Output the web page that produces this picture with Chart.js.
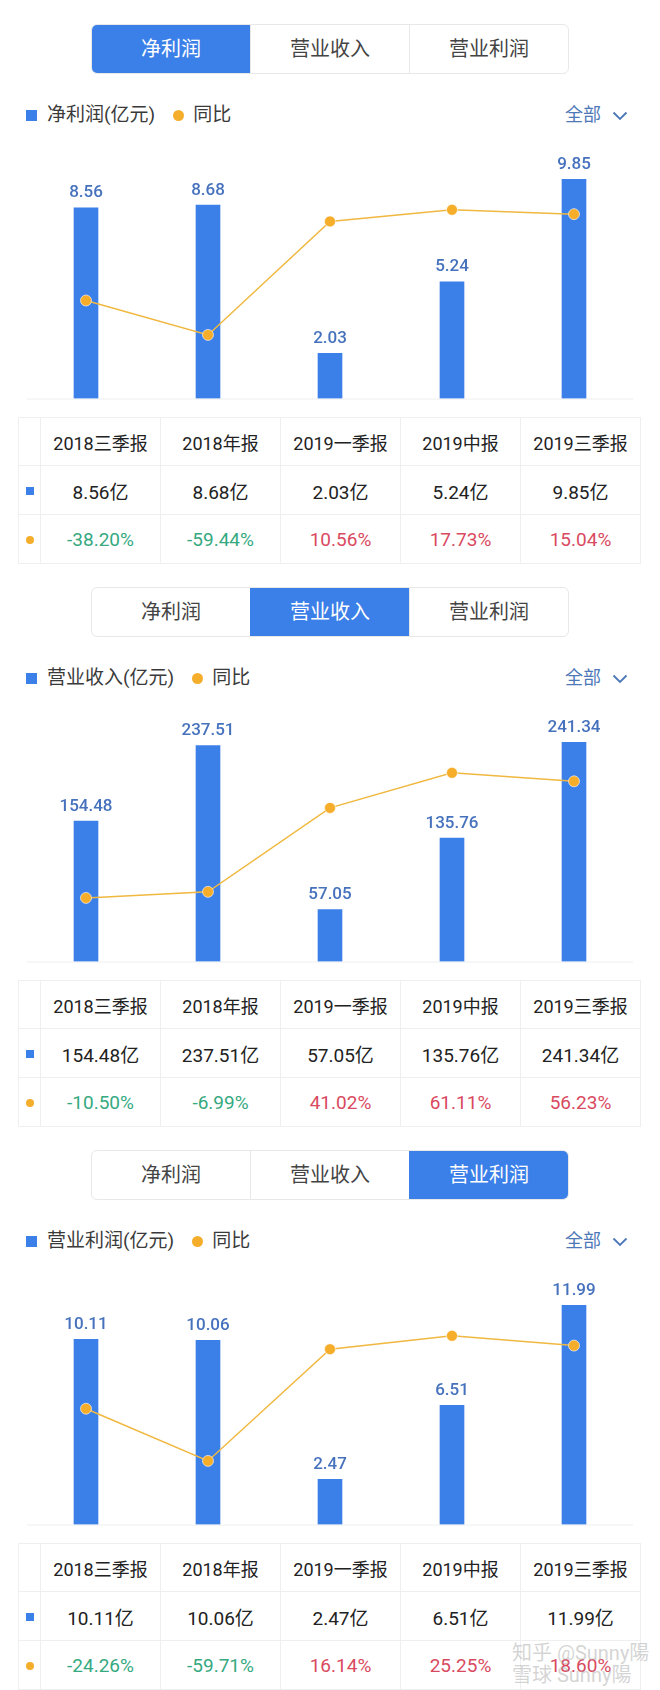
<!DOCTYPE html>
<html lang="zh-CN">
<head>
<meta charset="utf-8">
<title>净利润 营业收入 营业利润</title>
<script src="https://cdn.jsdelivr.net/npm/chart.js@4.4.1/dist/chart.umd.min.js"></script>
<style>
body{margin:0;background:#fff;width:660px;height:1690px;overflow:hidden;position:relative;font-family:Roboto,"Noto Sans CJK SC",sans-serif;color:#333}
.sec{position:absolute;left:0;width:660px;height:563px}
.tabs{position:absolute;left:91px;top:24px;width:478px;height:50px;border:1px solid #e8e8e8;border-radius:6px;box-sizing:border-box;display:flex;overflow:hidden}
.tab{flex:1;text-align:center;line-height:48px;font-size:20px;color:#444;border-left:1px solid #e8e8e8}
.tab:first-child{border-left:none}
.tab.on{background:#3b7fe8;color:#fff;border-left-color:#3b7fe8}
.legend{position:absolute;left:26px;top:100px;height:30px;line-height:30px;font-size:19px;color:#3a3a3a;display:flex;align-items:center}
.sq{width:11px;height:11px;background:#3b7fe8;margin-right:10px}
.dot{width:11px;height:11px;border-radius:50%;background:#f5ad2c;margin:0 9px 0 18px}
.all{position:absolute;left:565px;top:100px;line-height:30px;font-size:18px;color:#4c78b8}
.all svg{position:absolute;left:47px;top:11px}
.box{position:absolute;left:0;top:140px;width:660px;height:265px}
table{position:absolute;left:18px;top:417px;border-collapse:collapse;table-layout:fixed}
td{border:1px solid #efefef;text-align:center;font-size:19px;color:#222;padding:0}
tr.hd td{font-size:18px}
td.ic{width:21px}
td.c{width:119px}
.isq{display:inline-block;width:8px;height:8px;background:#3b7fe8;vertical-align:middle}
.idot{display:inline-block;width:8px;height:8px;border-radius:50%;background:#f5ad2c;vertical-align:middle}
.up{color:#d94a5f}
.down{color:#35a97f}
.wm{position:absolute;left:512px;top:1642px;font-size:20px;line-height:22px;color:rgba(170,170,170,0.5);white-space:nowrap}
</style>
</head>
<body>

<script>
const periods = ['2018三季报', '2018年报', '2019一季报', '2019中报', '2019三季报'];
const tabNames = ['净利润', '营业收入', '营业利润'];

const netProfit = [8.56, 8.68, 2.03, 5.24, 9.85];
const netProfitYoy = [-38.20, -59.44, 10.56, 17.73, 15.04];

const revenue = [154.48, 237.51, 57.05, 135.76, 241.34];
const revenueYoy = [-10.50, -6.99, 41.02, 61.11, 56.23];

const opProfit = [10.11, 10.06, 2.47, 6.51, 11.99];
const opProfitYoy = [-24.26, -59.71, 16.14, 25.25, 18.60];

const SEC_H = 563;

// baseline under the bars
const baseLine = {
    id: 'baseLine',
    beforeDatasetsDraw(chart){
        const c = chart.ctx, a = chart.chartArea;
        c.save();
        c.strokeStyle = '#eeeeee';
        c.lineWidth = 1;
        c.beginPath();
        c.moveTo(27, a.bottom + 0.5);
        c.lineTo(633, a.bottom + 0.5);
        c.stroke();
        c.restore();
    }
};

// value text above each bar
const barLabels = {
    id: 'barLabels',
    afterDatasetsDraw(chart){
        const c = chart.ctx;
        const meta = chart.getDatasetMeta(1);
        const vals = chart.data.datasets[1].data;
        c.save();
        c.font = '500 17px Roboto, "Noto Sans CJK SC"';
        c.fillStyle = '#4672bd';
        c.textAlign = 'center';
        c.textBaseline = 'bottom';
        meta.data.forEach(function(bar, i){
            c.fillText(vals[i].toFixed(2), bar.x, bar.y - 6);
        });
        c.restore();
    }
};

function makechart(docID, labels, bars, yoy){
    const ctx = document.getElementById(docID);
    const lo = Math.min(...yoy), hi = Math.max(...yoy);
    const r = (hi - lo) / 126;

    const myChart = new Chart(ctx, {
        data: {
            labels: labels,
            datasets: [{
                type: 'line',
                data: yoy,
                yAxisID: 'y1',
                order: 0,
                borderColor: '#f0b840',
                borderWidth: 1.5,
                pointRadius: 5.5,
                pointBackgroundColor: '#f6ad2a',
                pointBorderColor: 'rgba(255,255,255,0.6)',
                pointBorderWidth: 1,
                tension: 0
            }, {
                type: 'bar',
                data: bars,
                yAxisID: 'y',
                order: 1,
                backgroundColor: '#3b7fe8',
                barThickness: 24
            }]
        },
        options: {
            responsive: false,
            animation: false,
            layout: {padding: {left: 25, right: 25, top: 39, bottom: 5}},
            plugins: {legend: {display: false}, tooltip: {enabled: false}},
            scales: {
                x: {display: false, offset: true},
                y: {display: false, min: 0, max: Math.max(...bars)},
                y1: {display: false, min: lo - 64 * r, max: hi + 31 * r}
            }
        },
        plugins: [baseLine, barLabels]
    });
}

function makesection(idx, title, bars, yoy){
    const top = idx * SEC_H;
    const sec = document.createElement('div');
    sec.className = 'sec';
    sec.style.top = top + 'px';

    var tabs = '<div class="tabs">';
    for (let i = 0; i < tabNames.length; i++) {
        tabs += '<div class="tab' + (i == idx ? ' on' : '') + '">' + tabNames[i] + '</div>';
    }
    tabs += '</div>';

    var legend = '<div class="legend"><span class="sq"></span>' + title + '(亿元)<span class="dot"></span>同比</div>' +
        '<div class="all">全部<svg width="16" height="10"><polyline points="1.5,1.5 8,8 14.5,1.5" fill="none" stroke="#4c78b8" stroke-width="1.8"/></svg></div>';

    var box = '<div class="box"><canvas id="chart' + idx + '" width="660" height="265"></canvas></div>';

    var rowH = '<tr class="hd" style="height:48px"><td class="ic"></td>';
    var rowV = '<tr style="height:49px"><td class="ic"><span class="isq"></span></td>';
    var rowP = '<tr style="height:49px"><td class="ic"><span class="idot"></span></td>';
    for (let i = 0; i < periods.length; i++) {
        rowH += '<td class="c">' + periods[i] + '</td>';
        rowV += '<td class="c">' + bars[i].toFixed(2) + '亿</td>';
        rowP += '<td class="c ' + (yoy[i] < 0 ? 'down' : 'up') + '">' + yoy[i].toFixed(2) + '%</td>';
    }
    var table = '<table>' + rowH + '</tr>' + rowV + '</tr>' + rowP + '</tr></table>';

    sec.innerHTML = tabs + legend + box + table;
    document.body.appendChild(sec);
    makechart('chart' + idx, periods, bars, yoy);
}

makesection(0, '净利润', netProfit, netProfitYoy)
makesection(1, '营业收入', revenue, revenueYoy)
makesection(2, '营业利润', opProfit, opProfitYoy)

const wm = document.createElement('div');
wm.className = 'wm';
wm.innerHTML = '知乎 @Sunny陽<br>雪球 Sunny陽';
document.body.appendChild(wm);
</script>
</body>
</html>
